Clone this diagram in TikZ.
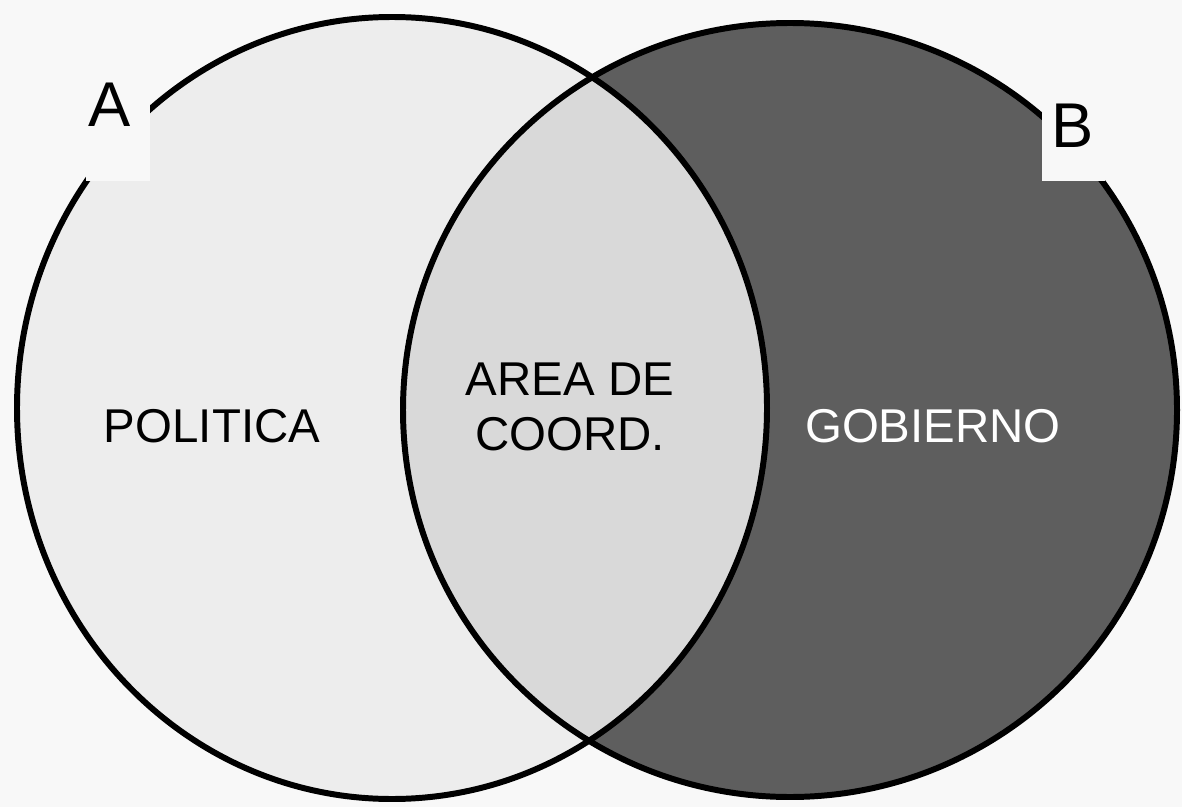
\documentclass[tikz,border=0pt]{standalone}
\usepackage{fontspec}
\setmainfont{Liberation Sans}
\usepackage{xcolor}
\usetikzlibrary{positioning}

\definecolor{bgcol}{HTML}{F8F8F8}
\definecolor{polcol}{HTML}{EDEDED}
\definecolor{midcol}{HTML}{D9D9D9}
\definecolor{govcol}{HTML}{5E5E5E}

\begin{document}
\begin{tikzpicture}[x=0.02cm, y=-0.02cm,
        ring/.style={draw=black, line width=3.4pt},
        areatext/.style={font=\fontsize{27}{31}\selectfont, align=center, inner sep=0pt},
        setname/.style={font=\fontsize{36}{40}\selectfont, inner sep=0pt}]
                \fill[bgcol] (0,0) rectangle (1182,807);
                \useasboundingbox (0,0) rectangle (1182,807);

                % the two sets
                \fill[polcol] (392,408) ellipse [x radius=375, y radius=391];
                \fill[govcol] (790,410) ellipse [x radius=387, y radius=387];
                \begin{scope}
                    \clip (392,408) ellipse [x radius=375, y radius=391];
                    \fill[midcol] (790,410) ellipse [x radius=387, y radius=387];
                \end{scope}
                \draw[ring] (392,408) ellipse [x radius=375, y radius=391];
                \draw[ring] (790,410) ellipse [x radius=387, y radius=387];

                % boxes behind the set names
                \fill[bgcol] (86,40) rectangle (150,181);
                \fill[bgcol] (1042,40) rectangle (1105,181);

                \node[setname] (a) at (110,105) {A};
                \node[setname] (b) at (1073,126) {B};

                \node[areatext] (pol) at (212,426) {POLITICA};
                \node[areatext] (coord) at (570,407) {AREA DE\\COORD.};
                \node[areatext, text=white] (gob) at (933,426) {GOBIERNO};
\end{tikzpicture}
\end{document}
